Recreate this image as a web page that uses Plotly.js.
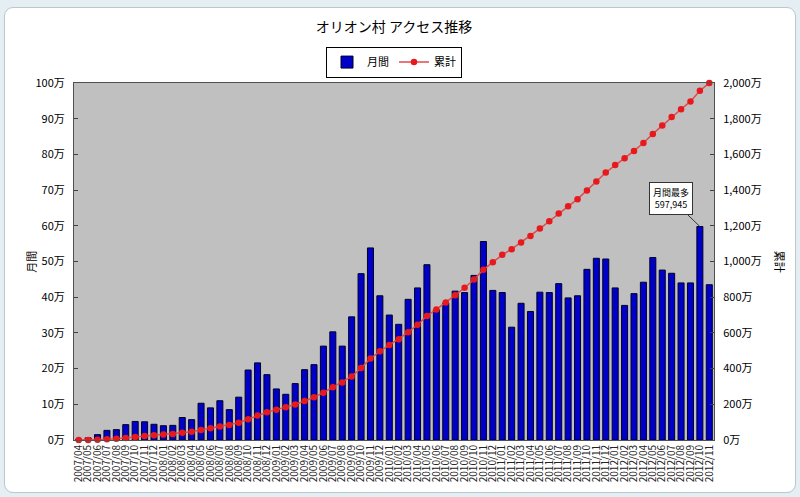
<!DOCTYPE html>
<html>
<head>
<meta charset="utf-8">
<script src="https://cdn.plot.ly/plotly-3.0.1.min.js"></script>
<style>
  html, body { margin: 0; padding: 0; background: #e4eef3; }
  #frame { position: absolute; left: 4px; top: 7px; width: 790px; height: 484px;
           background: #ffffff; border: 1px solid #b9c7cf; border-radius: 9px; }
  #chart { position: absolute; left: 0; top: 0; width: 800px; height: 497px; }
</style>
</head>
<body>
<div id="frame"></div>
<div id="chart"></div>
<script>
// Month labels
const months = [
  "2007/04","2007/05","2007/06","2007/07","2007/08","2007/09","2007/10","2007/11","2007/12",
  "2008/01","2008/02","2008/03","2008/04","2008/05","2008/06","2008/07","2008/08","2008/09","2008/10","2008/11","2008/12",
  "2009/01","2009/02","2009/03","2009/04","2009/05","2009/06","2009/07","2009/08","2009/09","2009/10","2009/11","2009/12",
  "2010/01","2010/02","2010/03","2010/04","2010/05","2010/06","2010/07","2010/08","2010/09","2010/10","2010/11","2010/12",
  "2011/01","2011/02","2011/03","2011/04","2011/05","2011/06","2011/07","2011/08","2011/09","2011/10","2011/11","2011/12",
  "2012/01","2012/02","2012/03","2012/04","2012/05","2012/06","2012/07","2012/08","2012/09","2012/10","2012/11"
];
// 月間 (monthly accesses, in 万 = 10,000)
const monthly = [
  0.2, 0.6, 1.5, 2.7, 2.9, 4.3, 5.2, 5.1, 4.4,
  4.0, 4.1, 6.3, 5.7, 10.3, 9.0, 11.0, 8.5, 12.0, 19.6, 21.6, 18.3,
  14.3, 12.8, 15.8, 19.7, 21.1, 26.3, 30.3, 26.3, 34.5, 46.6, 53.8, 40.4,
  35.0, 32.4, 39.4, 42.6, 49.1, 36.5, 38.4, 41.7, 41.3, 46.1, 55.6, 41.9,
  41.3, 31.6, 38.3, 36.0, 41.4, 41.3, 43.8, 39.8, 40.4, 47.8, 50.9, 50.7,
  42.6, 37.7, 41.0, 44.2, 51.1, 47.6, 46.7, 44.0, 44.0, 59.7945, 43.5
];
// 累計 (cumulative accesses, in 万)
const cumulative = [
  0.1, 0.7, 2.1, 4.7, 7.5, 11.8, 16.9, 21.9, 26.3,
  30.2, 34.2, 40.5, 46.1, 56.3, 65.3, 76.2, 84.6, 96.5, 116.1, 137.6, 155.8,
  170.1, 182.8, 198.5, 218.2, 239.2, 265.4, 295.6, 321.9, 356.3, 402.8, 456.6, 496.9,
  531.8, 564.2, 603.5, 646.0, 695.0, 731.5, 769.8, 811.4, 852.7, 898.7, 954.2, 996.1,
  1037.3, 1068.8, 1107.0, 1143.0, 1184.3, 1225.5, 1269.3, 1309.0, 1349.3, 1397.1, 1447.9, 1498.5,
  1541.0, 1578.7, 1619.6, 1663.7, 1714.8, 1762.3, 1808.9, 1852.9, 1896.8, 1956.5, 1999.9
];
const seriesNames = ["月間", "累計"];
const chartTitle = "オリオン村 アクセス推移";
const peakLabel = "月間最多";

const FONT = "'Noto Sans CJK JP', 'Noto Sans', sans-serif";

let peakIdx = 0;
monthly.forEach((v, i) => { if (v > monthly[peakIdx]) peakIdx = i; });
const peakText = peakLabel + "<br>" + Math.round(monthly[peakIdx] * 10000).toLocaleString("en-US");

const traces = [
  {
    type: "bar", name: seriesNames[0], x: months, y: monthly,
    marker: { color: "#0000c8", line: { color: "#00002a", width: 1 } },
    width: 0.64, hoverinfo: "x+y"
  },
  {
    type: "scatter", mode: "lines+markers", name: seriesNames[1], x: months, y: cumulative,
    yaxis: "y2",
    line: { color: "#e04a4a", width: 1.5 },
    marker: { color: "#e8191c", size: 6.5 },
    cliponaxis: false
  }
];

const layout = {
  width: 800, height: 497,
  paper_bgcolor: "rgba(0,0,0,0)",
  plot_bgcolor: "#c0c0c0",
  margin: { l: 74, r: 86, t: 83, b: 57 },
  font: { family: FONT, color: "#000000", size: 11 },
  title: { text: chartTitle, font: { family: FONT, size: 14, color: "#000" },
           x: 0.5, xref: "paper", y: 0.946, yanchor: "middle" },
  showlegend: true,
  legend: {
    orientation: "h", x: 0.5, xanchor: "center", y: 1.102, yanchor: "top",
    bgcolor: "#ffffff", bordercolor: "#000000", borderwidth: 1,
    font: { family: FONT, size: 11 }, traceorder: "normal",
    itemwidth: 30
  },
  xaxis: {
    type: "category", range: [-0.5, months.length - 0.5],
    tickmode: "array", tickvals: months, ticktext: months,
    tickangle: -90, tickfont: { size: 10, family: FONT, color: "#222" },
    showline: true, linecolor: "#505050", linewidth: 1, mirror: true,
    ticks: "", showgrid: false, zeroline: false, automargin: false
  },
  yaxis: {
    range: [0, 100], dtick: 10, ticksuffix: "万", tickfont: { size: 11, family: FONT },
    showline: true, linecolor: "#505050", linewidth: 1,
    ticks: "inside", ticklen: 4, tickcolor: "#404040",
    showgrid: false, zeroline: false, automargin: false, ticklabelstandoff: 6
  },
  yaxis2: {
    overlaying: "y", side: "right", range: [0, 2000], dtick: 200,
    tickformat: ",d", ticksuffix: "万", tickfont: { size: 11, family: FONT },
    showline: true, linecolor: "#505050", linewidth: 1,
    ticks: "inside", ticklen: 4, tickcolor: "#404040",
    showgrid: false, zeroline: false, automargin: false, ticklabelstandoff: 6
  },
  annotations: [
    { text: seriesNames[0], xref: "paper", yref: "paper", x: -0.084, y: 0.5,
      textangle: -90, showarrow: false, font: { size: 11, family: FONT } },
    { text: seriesNames[1], xref: "paper", yref: "paper", x: 1.12, y: 0.5,
      textangle: 90, showarrow: false, font: { size: 11, family: FONT } },
    { text: peakText, x: months[peakIdx], y: monthly[peakIdx], xref: "x", yref: "y",
      showarrow: true, arrowhead: 0, arrowwidth: 1, arrowcolor: "#333",
      ax: -29, ay: -28, bgcolor: "#ffffff", bordercolor: "#333", borderwidth: 1,
      borderpad: 3, font: { size: 9, family: FONT } }
  ]
};

Plotly.newPlot("chart", traces, layout, { displayModeBar: false, staticPlot: true });
</script>
</body>
</html>
